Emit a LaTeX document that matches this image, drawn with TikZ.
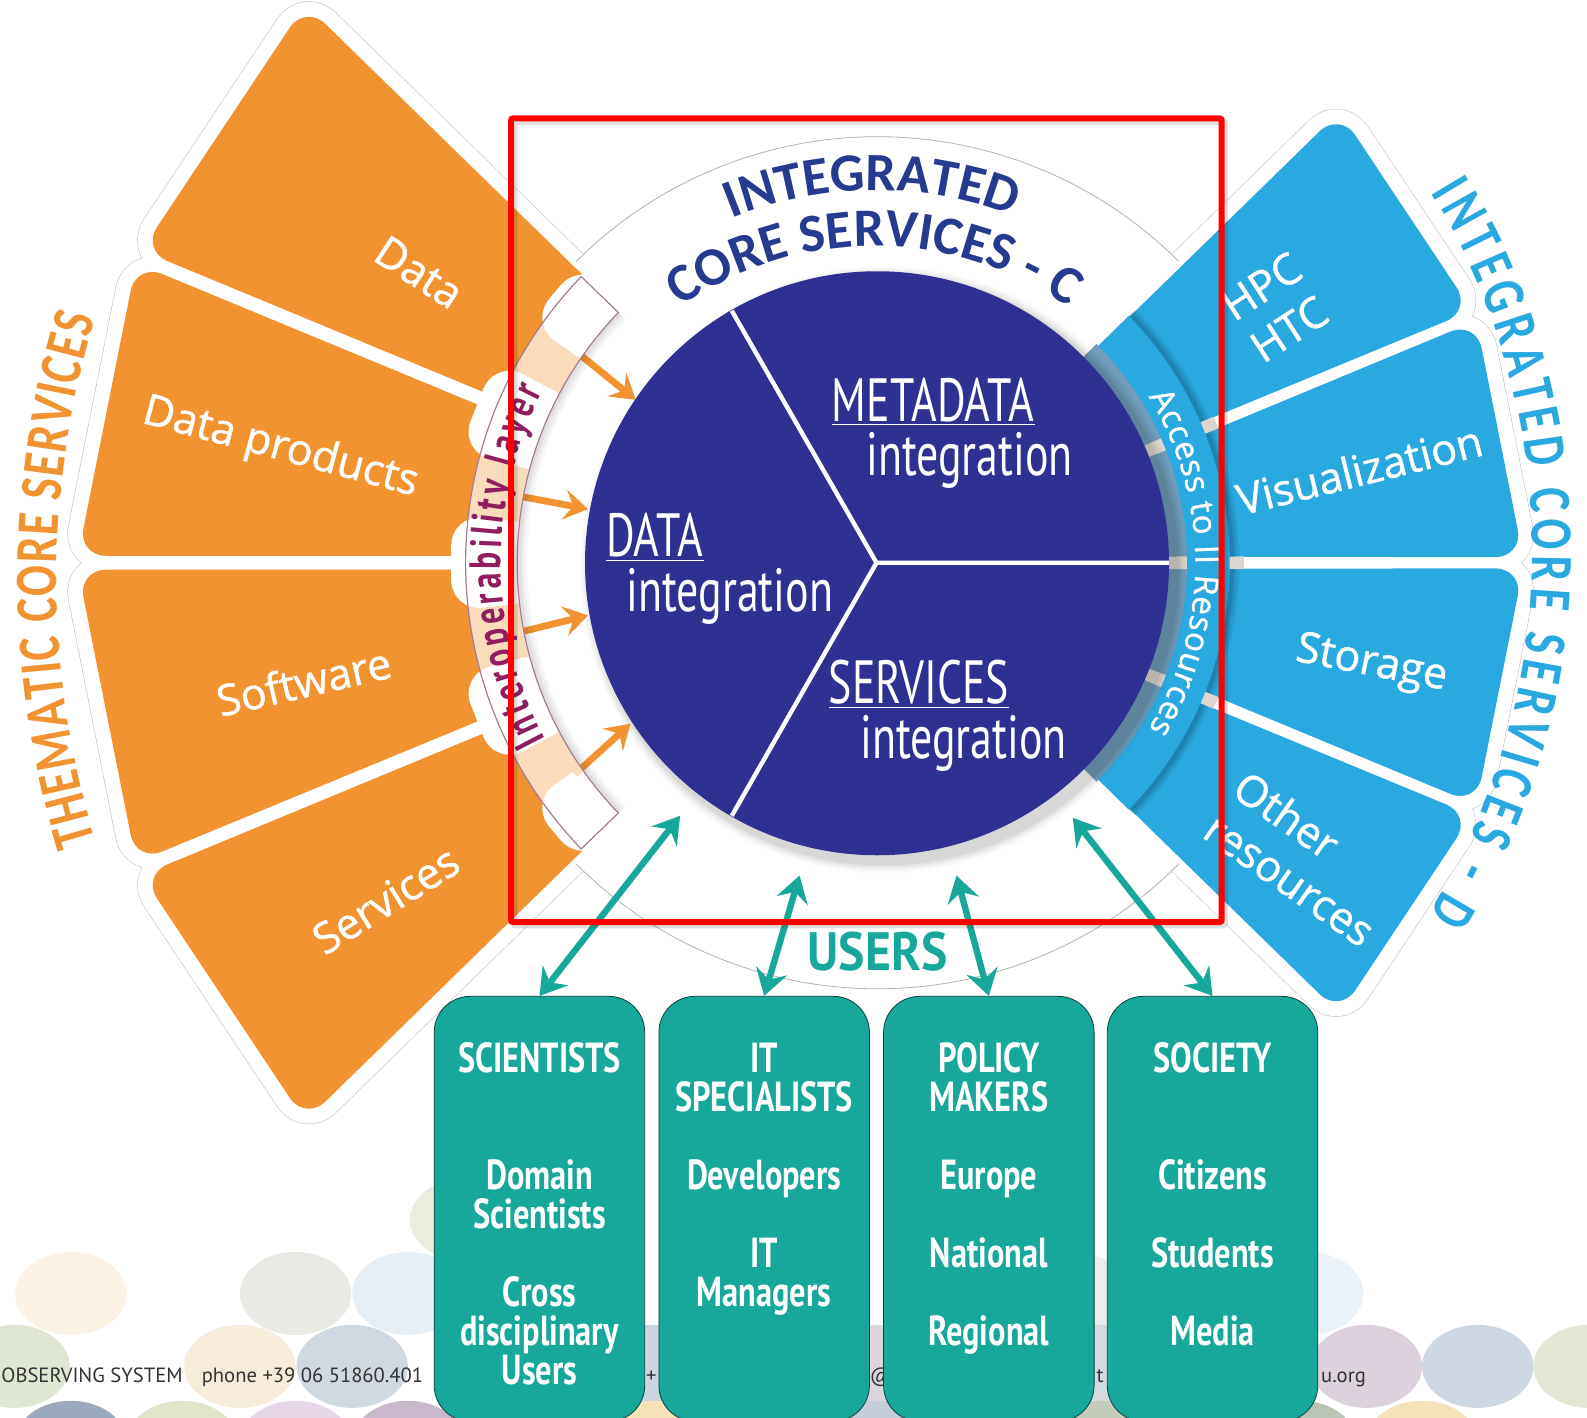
\documentclass[tikz,border=0pt]{standalone}
\usepackage{fontspec}
\usetikzlibrary{arrows.meta,decorations.text,calc}
\setmainfont{PT Sans}
\newfontfamily\condf[FakeStretch=0.72]{PT Sans}
\newfontfamily\boxf[FakeStretch=0.77]{PT Sans}
\newfontfamily\wide{PT Sans}
\newfontfamily\secf[FakeBold=1]{Open Sans}
\newfontfamily\userf[FakeStretch=0.92]{PT Sans}
\newfontfamily\arcf{Carlito}
\newfontfamily\arcc[FakeStretch=0.76]{Carlito}
\definecolor{navyc}{HTML}{2E3192}
\definecolor{titlec}{HTML}{263A8F}
\definecolor{orangec}{HTML}{F29331}
\definecolor{bluec}{HTML}{2AA8E0}
\definecolor{tealc}{HTML}{17A89B}
\definecolor{ringc}{HTML}{6F9DBB}
\definecolor{purplec}{HTML}{8F1D5F}
\definecolor{bandedge}{HTML}{A57A95}
\definecolor{stubc}{HTML}{DCD6D0}
\def\U{0.50606pt}
\newcommand\pol[2]{({867+(#2)*cos(#1)},{556-(#2)*sin(#1)})}
\tikzset{
 x=0.50606pt,y=-0.50606pt,
 sticker/.style={draw=#1,line join=round,rounded corners=14pt},
 orangesec/.style={fill=orangec,rounded corners=14pt},
 bluesec/.style={fill=bluec,rounded corners=14pt},
 sectext/.style={text=white,font=\secf\fontsize{21.5}{25.5}\selectfont,inner sep=0pt},
 mainlabel/.style={text=white,font=\condf\fontsize{30.5}{34}\selectfont,inner sep=0pt},
 userbox/.style={fill=tealc,draw=black!60!tealc,line width=.4pt,rounded corners=18pt,minimum width=208*\U,minimum height=420*\U,inner sep=0pt,anchor=north},
 usertext/.style={text=white,font=\boxf\bfseries\fontsize{21}{19.5}\selectfont,align=center,inner sep=0pt,anchor=north},
 orangearrow/.style={draw=orangec,line width=3.4pt,-{Stealth[length=12pt,width=15pt,inset=4.5pt]}},
 tealarrow/.style={draw=tealc,line width=3.2pt,{Stealth[length=13pt,width=16pt,inset=4.5pt]}-{Stealth[length=13pt,width=16pt,inset=4.5pt]}},
 footer/.style={text=black!80,font=\wide\fontsize{10.3}{11}\selectfont,inner sep=0pt,anchor=base west},
}
\newcommand\bubble[4]{\fill[#4] (#1,#2) ellipse [x radius=55,y radius=#3];}
\newcommand\ringarc[4]{plot[domain=#1:#2,samples=#4] ({867+(#3)*cos(\x)},{556-(#3)*sin(\x)})}
\newcommand\offarc[5]{plot[domain=#3:#4,samples=70] ({#1+(#5)*cos(\x)},{#2-(#5)*sin(\x)})}
\newcommand\annulus[4]{plot[domain=#1:#2,samples=50] ({867+(#3)*cos(\x)},{556-(#3)*sin(\x)}) -- plot[domain=#2:#1,samples=50] ({867+(#4)*cos(\x)},{556-(#4)*sin(\x)}) -- cycle}
\newcommand\pie[3]{plot[domain=#1:#2,samples=50] ({867+(#3)*cos(\x)},{556-(#3)*sin(\x)}) -- (867,556) -- cycle}
\begin{document}
\begin{tikzpicture}
\clip (0,0) rectangle (1568,1401);
\fill[white] (0,0) rectangle (1568,1401);
% background bubbles
\foreach \px/\py/\pc in {
 460/1205/E9EEDC, 70/1278/FDF3E4, 292/1278/E8EBE4, 403/1278/E6EEF5, 1292/1278/E9F2F8, 1060/1278/ECECEC,
 14/1350/DFE7D3, 237/1350/F7ECD9, 348/1350/D0D9E2, 1350/1350/DCD1DC, 1460/1350/CED8E4, 1570/1350/E3E8D5,
 645/1350/CBD5E0, 865/1350/DDD4DE, 1085/1350/D4DAE2,
 70/1425/9AA9BB, 180/1425/DFE6C9, 292/1425/E6D6E8, 403/1425/C9B8CC, 645/1425/F5E3B9, 865/1425/C3CEDA, 1085/1425/C4CCBC, 1285/1425/B9C4B5, 1405/1425/F5E3B9}{
 \definecolor{tmpc}{HTML}{\pc}
 \bubble{\px}{\py}{41}{tmpc}
}
\node[footer] (f1) at (1,1366) {OBSERVING SYSTEM};
\node[footer] (f2) at (199,1366) {phone +39 06 51860.401};
\node[footer] (f3) at (638,1366) {+};
\node[footer] (f4) at (859,1366) {@};
\node[footer] (f5) at (1083,1366) {t};
\node[footer] (f6) at (1305,1366) {u.org};
% stickers
\foreach \c/\w in {black!28/15.5pt,white/15pt}{
 \foreach \a/\b/\d/\e in {135.7/157/156.2/135.7,158/179.5/178.7/158.8,180.5/202/201.3/181.3,203/224.3/224.3/203.8}{
  \draw[sticker=\c,line width=\w] \pol{\a}{790} -- \pol{\b}{790} -- \pol{\d}{300} -- \pol{\e}{300} -- cycle;
 }
 \foreach \a/\b/\d/\e in {44.3/23/23.8/44.3,22/0.5/1.3/21.2,-0.5/-22/-21.2/-1.3,-23/-44.3/-44.3/-23.8}{
  \draw[sticker=\c,line width=\w] \pol{\a}{638} -- \pol{\b}{638} -- \pol{\d}{260} -- \pol{\e}{260} -- cycle;
 }
}
% orange sectors
\foreach \a/\b/\d/\e in {135.7/157/156.2/135.7,158/179.5/178.7/158.8,180.5/202/201.3/181.3,203/224.3/224.3/203.8}{
 \fill[orangesec] \pol{\a}{790} -- \pol{\b}{790} -- \pol{\d}{300} -- \pol{\e}{300} -- cycle;
}
% blue sectors
\foreach \a/\b/\d/\e in {44.3/23/23.8/44.3,22/0.5/1.3/21.2,-0.5/-22/-21.2/-1.3,-23/-44.3/-44.3/-23.8}{
 \fill[bluesec] \pol{\a}{638} -- \pol{\b}{638} -- \pol{\d}{260} -- \pol{\e}{260} -- cycle;
}
% white blobs under the interoperability band
\foreach \m/\s/\r in {140/5.5/418,158.5/6.5/428,180/6.5/424,201.5/6.5/428,220/5.5/418}{
 \pgfmathsetmacro\ma{\m-\s}\pgfmathsetmacro\mb{\m+\s}
 \fill[white,rounded corners=16pt] \pol{\ma}{330} -- \pol{\ma}{\r} -- \pol{\mb}{\r} -- \pol{\mb}{330} -- cycle;
}
% inner white disc on the left, wedges top and bottom
\fill[white] \pie{134}{226}{356};
\fill[white] \pie{45}{135}{421};
\fill[white] \pie{225}{315}{421};
\draw[black!30,line width=.4pt] \ringarc{45}{135}{421}{60};
\draw[black!30,line width=.4pt] \ringarc{225}{315}{421}{60};
% access band on the right
\foreach \w/\o in {9pt/.04,7pt/.05,5pt/.06,3pt/.08}{
 \draw[black,opacity=\o,line width=\w] \ringarc{-44.5}{44.5}{349}{50};
}
\fill[ringc] \annulus{-45}{45}{306}{280};
\foreach \a in {22.5,0,-22.5}{
 \pgfmathsetmacro\ma{\a-1.2}\pgfmathsetmacro\mb{\a+1.2}
 \fill[stubc] \pol{\ma}{288} -- \pol{\ma}{306} -- \pol{\mb}{306} -- \pol{\mb}{288} -- cycle;
 \pgfmathsetmacro\ma{\a-1}\pgfmathsetmacro\mb{\a+1}
 \fill[stubc] \pol{\ma}{348} -- \pol{\ma}{362} -- \pol{\mb}{362} -- \pol{\mb}{348} -- cycle;
}
\fill[bluec] \annulus{-44.5}{44.5}{348}{306};
\path[decorate,decoration={text along path,text align={fit to path},
 text={|\secf\color{white}\fontsize{16.5}{18}\selectfont|Access to II Resources}}]
 \ringarc{31.5}{-31.5}{314}{60};
% sector labels
\node[sectext,rotate=-33] (sdata) at (414,269) {Data};
\node[sectext,rotate=-15] (sprod) at (277,443) {Data products};
\node[sectext,rotate=13] (ssoft) at (300,673) {Software};
\node[sectext,rotate=32] (sserv) at (381,889) {Services};
\node[sectext,rotate=33,align=center] (shpc) at (1260,304) {HPC\\HTC};
\node[sectext,rotate=14] (svis) at (1343,464) {Visualization};
\node[sectext,rotate=-11] (ssto) at (1355,657) {Storage};
\node[sectext,rotate=-35,align=left] (soth) at (1289,848) {Other\\resources};
% shadow of the central disc
\foreach \r/\o in {300/.015,298/.025,296/.03,294/.04,292/.05}{
 \fill[black,opacity=\o] (873,563) circle [radius=\r];
}
% orange arrows
\coordinate (oa1) at (628,395); \coordinate (ob1) at (575,352);
\coordinate (oa2) at (581,503); \coordinate (ob2) at (512,490);
\coordinate (oa3) at (581,608); \coordinate (ob3) at (512,625);
\coordinate (oa4) at (623,715); \coordinate (ob4) at (568,765);
\draw[orangearrow] (ob1) -- (oa1);
\draw[orangearrow] (ob2) -- (oa2);
\draw[orangearrow] (ob3) -- (oa3);
\draw[orangearrow] (ob4) -- (oa4);
% interoperability band
\foreach \r/\o in {346/.03,349/.04,352/.05}{
 \fill[black,opacity=\o] \annulus{136}{224}{356}{\r};
}
\fill[white,fill opacity=.68,draw=bandedge,line width=.6pt] \annulus{136}{224}{407}{356};
\path[decorate,decoration={text along path,text align={fit to path},
 text={|\condf\bfseries\color{purplec}\fontsize{22}{24}\selectfont|Interoperability layer}}]
 \ringarc{208}{153}{372}{60};
% central disc
\node[circle,fill=navyc,minimum size=577*\U,inner sep=0pt] (core) at (866.5,556.5) {};
\coordinate (l1) at (723,307);\coordinate (l2) at (723,806);\coordinate (l3) at (1155,556);\coordinate (l0) at (866,556);
\draw[white,line width=2.2pt] (l1) -- (l0) -- (l2) (l0) -- (l3);
\node[mainlabel] (m1) at (922,397) {\underline{METADATA}};
\node[mainlabel] (m2) at (958,455) {integration};
\node[mainlabel] (d1) at (647,531) {\underline{DATA}};
\node[mainlabel] (d2) at (721,589) {integration};
\node[mainlabel] (s1) at (908,676) {\underline{SERVICES}};
\node[mainlabel] (s2) at (952,734) {integration};
% titles on arcs
\path[decorate,decoration={text along path,text align=center,
 text={|\arcf\bfseries\color{titlec}\fontsize{27}{30}\selectfont|INTEGRATED}}]
 \offarc{865}{568}{115}{66}{380};
\path[decorate,decoration={text along path,text align=center,
 text={|\arcf\bfseries\color{titlec}\fontsize{27}{30}\selectfont|CORE SERVICES - C}}]
 \offarc{864}{578}{132}{48}{335};
\path[decorate,decoration={text along path,text align={fit to path},
 text={|\arcc\bfseries\color{orangec}\fontsize{30}{32}\selectfont|THEMATIC CORE SERVICES}}]
 \offarc{950}{572}{196.9}{163.2}{894};
\path[decorate,decoration={text along path,text align={fit to path},
 text={|\arcc\bfseries\color{bluec}\fontsize{30}{32}\selectfont|INTEGRATED CORE SERVICES - D}}]
 \offarc{834}{545}{31.5}{-31.8}{680};
\node[text=tealc,font=\userf\bfseries\fontsize{27}{30}\selectfont,inner sep=0pt] (users) at (867,940) {USERS};
% user boxes
\node[userbox] (sci) at (533,984) {};
\node[userbox] (its) at (755,984) {};
\node[userbox] (pol) at (977,984) {};
\node[userbox] (soc) at (1198,984) {};
\node[usertext] (tsci) at (533,1030) {SCIENTISTS\\~\\~\\Domain\\Scientists\\~\\Cross\\disciplinary\\Users};
\node[usertext] (tits) at (755,1030) {IT\\SPECIALISTS\\~\\Developers\\~\\IT\\Managers};
\node[usertext] (tpol) at (977,1030) {POLICY\\MAKERS\\~\\Europe\\~\\National\\~\\Regional};
\node[usertext] (tsoc) at (1198,1030) {SOCIETY\\~\\~\\Citizens\\~\\Students\\~\\Media};
% teal arrows
\coordinate (u1) at (672,806);\coordinate (u2) at (790,865);\coordinate (u3) at (945,865);\coordinate (u4) at (1060,808);
\draw[tealarrow] (sci.north) -- (u1);
\draw[tealarrow] (its.north) -- (u2);
\draw[tealarrow] (pol.north) -- (u3);
\draw[tealarrow] (soc.north) -- (u4);
% red frame
\draw[black,opacity=.12,line width=3.4pt,rounded corners=1pt] (508,120) rectangle (1210,914);
\draw[red,line width=3pt,rounded corners=1pt] (505,117) rectangle (1207,911);
\end{tikzpicture}
\end{document}
